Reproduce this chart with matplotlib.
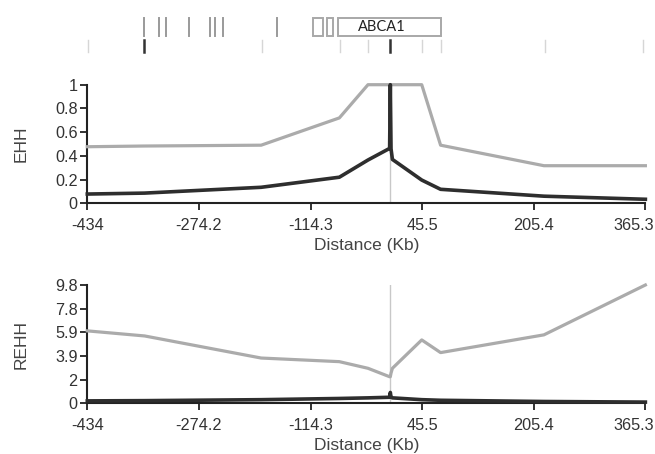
import matplotlib
matplotlib.use("Agg")
import matplotlib.pyplot as plt
import matplotlib.transforms as mtransforms
from matplotlib.patches import Rectangle

plt.rcParams['font.family'] = ['Liberation Sans', 'DejaVu Sans']

# positions of the SNPs used by the lines (Kb from core)
kb = [-434, -352, -185, -73, -32, -1, 0, 1, 3, 45, 72, 220, 365.3]

# EHH
ehh_gray = [0.477, 0.483, 0.49, 0.72, 1.0, 1.0, 1.0, 1.0, 1.0, 1.0, 0.49, 0.317, 0.317]
ehh_black = [0.078, 0.086, 0.135, 0.22, 0.365, 0.463, 1.0, 0.46, 0.37, 0.196, 0.118, 0.06, 0.034]

# REHH
rehh_gray = [6.0, 5.58, 3.75, 3.45, 2.9, 2.2, 2.2, 2.5, 2.9, 5.25, 4.2, 5.67, 9.8]
rehh_black = [0.2, 0.22, 0.3, 0.4, 0.45, 0.5, 0.9, 0.5, 0.45, 0.3, 0.25, 0.15, 0.1]

x_ticks = [-434, -274.2, -114.3, 45.5, 205.4, 365.3]
x_labels = ['-434', '-274.2', '-114.3', '45.5', '205.4', '365.3']
ehh_ticks = [0, 0.2, 0.4, 0.6, 0.8, 1]
ehh_labels = ['0', '0.2', '0.4', '0.6', '0.8', '1']
rehh_ticks = [0, 1.96, 3.92, 5.88, 7.84, 9.8]
rehh_labels = ['0', '2', '3.9', '5.9', '7.8', '9.8']

# gene track
upper_marks = [-352.4, -330.9, -321.3, -287.9, -258.3, -251.1, -239.2, -162.7]
snp_marks = [-432.6, -352.4, -184.2, -72, -31.9, 0, 45, 72.7, 221.6, 362]
dark_marks = [-352.4, 0]
exons = [(-110.3, -96.8), (-91.1, -81.6), (-74.5, 72.6)]
gene_name = 'ABCA1'

xmin, xmax = -434, 365.3
GRAY = '#ababab'
DARK = '#2e2e2e'

fig = plt.figure(figsize=(6.55, 4.54), dpi=100)

# track on top
tr = fig.add_axes([0.1333, 1 - 54 / 454, 0.852, 39 / 454])
tr.set_xlim(xmin, xmax)
tr.set_ylim(54, 15)
tr.axis('off')
for m in upper_marks:
    tr.plot([m, m], [17.7, 35.7], color='#9a9a9a', lw=1.4)
for m in snp_marks:
    if m in dark_marks:
        tr.plot([m, m], [40, 51.7], color='#333333', lw=1.8)
    else:
        tr.plot([m, m], [40, 51.7], color='#d6d6d6', lw=1.0)
for a, b in exons:
    tr.add_patch(Rectangle((a, 17.7), b - a, 18, facecolor='white',
                           edgecolor='#a8a8a8', lw=1.4))
big = exons[-1]
tr.text((big[0] + big[1]) / 2 - 12, 26.7, gene_name, ha='center', va='center',
        fontsize=10.5, family=['Lato', 'DejaVu Sans'], color='#222222')


def style(ax, ticks, labels, ylabel, ymax):
    ax.set_xlim(xmin, xmax)
    ax.set_ylim(0, ymax)
    for s in ['top', 'right']:
        ax.spines[s].set_visible(False)
    for s in ['left', 'bottom']:
        ax.spines[s].set_linewidth(1.5)
        ax.spines[s].set_color('#222222')
    ax.set_xticks(x_ticks)
    ax.set_xticklabels(x_labels)
    ax.set_yticks(ticks)
    ax.set_yticklabels(labels)
    ax.tick_params(direction='out', length=5, width=1.3, labelsize=11.7,
                   colors='#222222', labelcolor='#333333')
    ax.tick_params(axis='x', pad=5.5)
    ax.tick_params(axis='y', pad=2)
    ax.set_xlabel('Distance (Kb)', fontsize=12.5, color='#444444', labelpad=3.5)
    ax.set_ylabel(ylabel, fontsize=12.5, color='#444444', labelpad=19)
    ax.axvline(0, color='#c8c8c8', lw=1.0, zorder=1)
    # last label sits against the right edge
    last = ax.get_xticklabels()[-1]
    last.set_transform(last.get_transform() +
                       mtransforms.ScaledTranslation(-0.12, 0, fig.dpi_scale_trans))


ax1 = fig.add_axes([0.1333, 1 - 203.3 / 454, 0.852, 118.6 / 454])
ax1.plot(kb, ehh_gray, color=GRAY, lw=2.3, clip_on=False, zorder=3)
ax1.plot(kb, ehh_black, color=DARK, lw=2.6, clip_on=False, zorder=4)
style(ax1, ehh_ticks, ehh_labels, 'EHH', 1)

ax2 = fig.add_axes([0.1333, 1 - 403.3 / 454, 0.852, 118.3 / 454])
ax2.plot(kb, rehh_gray, color=GRAY, lw=2.3, clip_on=False, zorder=3)
ax2.plot(kb, rehh_black, color=DARK, lw=2.6, clip_on=False, zorder=4)
style(ax2, rehh_ticks, rehh_labels, 'REHH', 9.8)

fig.savefig('out.png', dpi=100)
